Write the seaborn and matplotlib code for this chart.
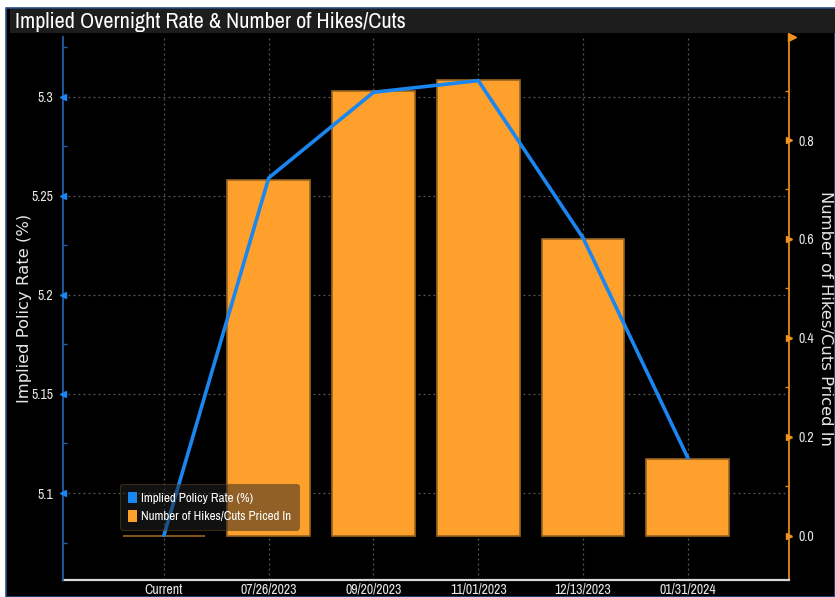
import numpy as np
import pandas as pd
import matplotlib
matplotlib.use("Agg")
import matplotlib.pyplot as plt
import seaborn as sns
from matplotlib import font_manager
from matplotlib.patches import Rectangle, Patch
from matplotlib.transforms import blended_transform_factory

# ---------------- data ----------------
dates = ["Current", "07/26/2023", "09/20/2023", "11/01/2023", "12/13/2023", "01/31/2024"]
implied_rate = [5.0786, 5.259, 5.3022, 5.3081, 5.2287, 5.1177]
hikes_priced = [0.0, 0.719, 0.900, 0.921, 0.600, 0.155]
left_ticks = [5.1, 5.15, 5.2, 5.25, 5.3]
left_ticklabels = ["5.1", "5.15", "5.2", "5.25", "5.3"]
right_ticks = [0.0, 0.2, 0.4, 0.6, 0.8]
right_ticklabels = ["0.0", "0.2", "0.4", "0.6", "0.8"]

title = "Implied Overnight Rate & Number of Hikes/Cuts"
left_label = "Implied Policy Rate (%)"
right_label = "Number of Hikes/Cuts Priced In"

# ---------------- style ----------------
sns.set_theme(style="dark")
fonts = font_manager.fontManager.ttflist
names = {f.name for f in fonts}
condensed_names = sorted({f.name for f in fonts
                          if "condensed" in f.name.lower() or "narrow" in f.name.lower()})
stretch = "normal"
if condensed_names:
    main_font = condensed_names[0]
elif any(f.name == "DejaVu Sans" and f.stretch in ("condensed", "semi-condensed") for f in fonts):
    main_font = "DejaVu Sans"
    stretch = "condensed"
else:
    main_font = "Liberation Sans" if "Liberation Sans" in names else "DejaVu Sans"
plt.rcParams["font.family"] = [main_font, "DejaVu Sans"]
plt.rcParams["font.stretch"] = stretch

BLUE = "#1a86f0"
ORANGE = "#ffa02c"
ORANGE_EDGE = "#9a6420"
GRID = "#5a5a5a"
TXT = "#e6e6e6"

W, H = 835, 597
fig = plt.figure(figsize=(W / 100, H / 100), dpi=100, facecolor="white")

# background panel and title bar
fig.patches.append(Rectangle((6 / W, 0), 1 - 6 / W, 1 - 8 / H, transform=fig.transFigure,
                             facecolor="black", edgecolor="#2c4f86", linewidth=1.2, zorder=-10))
fig.patches.append(Rectangle((10 / W, 1 - 33 / H), 1 - 10 / W, 24 / H, transform=fig.transFigure,
                             facecolor="#1d1d1d", edgecolor="none", zorder=-9))
fig.text(15 / W, 1 - 21.5 / H, title, color="white", fontsize=16, va="center", ha="left")

x0, x1 = 63 / W, 789 / W
y0, y1 = 1 - 580 / H, 1 - 37 / H
ax_bar = fig.add_axes([x0, y0, x1 - x0, y1 - y0])
ax_line = ax_bar.twinx()
ax_bar.set_facecolor("none")
ax_line.set_facecolor("none")
ax_line.set_zorder(ax_bar.get_zorder() + 1)

df = pd.DataFrame({"date": dates, "rate": implied_rate, "hikes": hikes_priced})
pos = np.arange(len(dates))

sns.barplot(data=df, x="date", y="hikes", ax=ax_bar, color=ORANGE, saturation=1,
            width=0.79, edgecolor=ORANGE_EDGE, linewidth=1.2, zorder=3)
sns.lineplot(x=pos, y=df["rate"].values, ax=ax_line, color=BLUE, linewidth=2.6,
             zorder=5, legend=False)

xlim = (-0.963, 5.965)
ax_bar.set_xlim(*xlim)
ax_line.set_xlim(*xlim)
ax_bar.set_ylim(-0.090, 1.0084)
ax_line.set_ylim(5.0561, 5.3301)

# axes positions: line axis -> left, bar axis -> right
ax_line.yaxis.tick_left()
ax_bar.yaxis.tick_right()

# grid lines (drawn in the bar axes so bars hide them)
ax_bar.grid(False)
ax_line.grid(False)
for p in pos:
    ax_bar.axvline(p, color=GRID, linestyle=(0, (1.5, 2.5)), linewidth=0.9, zorder=1)
tr = blended_transform_factory(ax_bar.transAxes, ax_line.transData)
for v in left_ticks:
    ax_bar.plot([0, 1], [v, v], transform=tr, color=GRID, linestyle=(0, (1.5, 2.5)),
                linewidth=0.9, zorder=1)

# ticks
ax_line.set_yticks(left_ticks)
ax_line.set_yticklabels(left_ticklabels)
ax_line.set_yticks([5.075, 5.125, 5.175, 5.225, 5.275, 5.325], minor=True)
ax_line.tick_params(axis="y", which="major", length=0, pad=7, labelsize=10, colors=TXT)
ax_line.tick_params(axis="y", which="minor", length=3, width=1, color="#1f60b0", direction="in")
ax_line.tick_params(axis="y", which="minor", left=True, right=False)
trl = blended_transform_factory(ax_line.transAxes, ax_line.transData)
ax_line.plot([0] * len(left_ticks), left_ticks, transform=trl, linestyle="none", marker="<",
             markersize=5, color=BLUE, clip_on=False, zorder=10)

ax_bar.set_yticks(right_ticks)
ax_bar.set_yticklabels(right_ticklabels)
ax_bar.set_yticks([0.1, 0.3, 0.5, 0.7, 0.9], minor=True)
ax_bar.tick_params(axis="y", which="major", length=0, pad=7, labelsize=10, colors=TXT)
ax_bar.tick_params(axis="y", which="minor", length=3, width=1, color="#e08a1a", direction="in",
                   right=True, left=False)
trr = blended_transform_factory(ax_bar.transAxes, ax_bar.transData)
ax_bar.plot([1] * len(right_ticks), right_ticks, transform=trr, linestyle="none", marker=">",
            markersize=5, color="#f0921e", clip_on=False, zorder=10)
ax_bar.plot([1.004], [1.0], transform=ax_bar.transAxes, linestyle="none", marker=">",
            markersize=6, color="#f0921e", clip_on=False, zorder=10)

ax_bar.set_xticks(pos)
ax_bar.set_xticklabels(dates)
ax_bar.tick_params(axis="x", length=2, width=2, color="white", colors=TXT, labelsize=10, pad=0)
ax_line.tick_params(axis="x", length=0)

ax_bar.set_xlabel("")
ax_bar.set_ylabel("")
ax_line.set_ylabel("")

# axis titles placed explicitly
fig.text(25 / W, 1 - 308 / H, left_label, color=TXT, fontsize=11.8, rotation=90,
         ha="center", va="center", rotation_mode="anchor", family=["DejaVu Sans"])
fig.text(826 / W, 1 - 318 / H, right_label, color=TXT, fontsize=11.8, rotation=-90,
         ha="center", va="center", rotation_mode="anchor", family=["DejaVu Sans"])

# spines
for a in (ax_bar, ax_line):
    for s in a.spines.values():
        s.set_visible(False)
ax_line.spines["left"].set_visible(True)
ax_line.spines["left"].set_color("#1f5fa8")
ax_line.spines["left"].set_linewidth(1.3)
ax_bar.spines["right"].set_visible(True)
ax_bar.spines["right"].set_color("#e08a1a")
ax_bar.spines["right"].set_linewidth(1.3)
ax_bar.spines["bottom"].set_visible(True)
ax_bar.spines["bottom"].set_color("#d8d8d8")
ax_bar.spines["bottom"].set_linewidth(1.6)

# legend
handles = [Patch(facecolor=BLUE, edgecolor="none"), Patch(facecolor=ORANGE, edgecolor="none")]
leg = ax_line.legend(handles, [left_label, right_label], loc="lower left",
                     bbox_to_anchor=((120 - 63) / 726, (580 - 530) / 543), borderaxespad=0,
                     fontsize=9.4, handlelength=0.7, handleheight=1.0, handletextpad=0.3,
                     labelspacing=0.45, borderpad=0.6, frameon=True, fancybox=True,
                     labelcolor="white")
fr = leg.get_frame()
fr.set_facecolor("#222222")
fr.set_alpha(0.5)
fr.set_edgecolor("#6a4a20")
fr.set_linewidth(0.8)
leg.set_zorder(20)

fig.savefig("out.png", dpi=100, facecolor=fig.get_facecolor())
